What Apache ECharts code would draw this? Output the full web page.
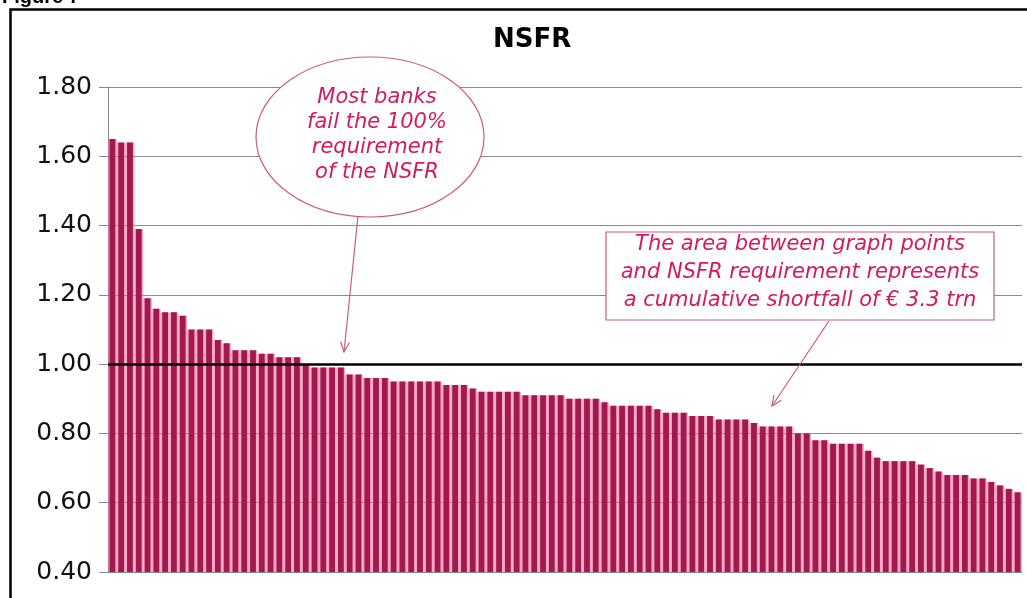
<!DOCTYPE html>
<html><head><meta charset="utf-8">
<script src="https://cdn.jsdelivr.net/npm/echarts@6/dist/echarts.min.js"></script>
<style>html,body{margin:0;padding:0;background:#fff}#c{width:1027px;height:598px}</style>
</head><body><div id="c"></div>
<script>
// NSFR ratio per bank, sorted descending
const nsfr = [
  1.65, 1.64, 1.64, 1.39, 1.19, 1.16, 1.15, 1.15, 1.14, 1.10,
  1.10, 1.10, 1.07, 1.06, 1.04, 1.04, 1.04, 1.03, 1.03, 1.02,
  1.02, 1.02, 1.00, 0.99, 0.99, 0.99, 0.99, 0.97, 0.97, 0.96,
  0.96, 0.96, 0.95, 0.95, 0.95, 0.95, 0.95, 0.95, 0.94, 0.94,
  0.94, 0.93, 0.92, 0.92, 0.92, 0.92, 0.92, 0.91, 0.91, 0.91,
  0.91, 0.91, 0.90, 0.90, 0.90, 0.90, 0.89, 0.88, 0.88, 0.88,
  0.88, 0.88, 0.87, 0.86, 0.86, 0.86, 0.85, 0.85, 0.85, 0.84,
  0.84, 0.84, 0.84, 0.83, 0.82, 0.82, 0.82, 0.82, 0.80, 0.80,
  0.78, 0.78, 0.77, 0.77, 0.77, 0.77, 0.75, 0.73, 0.72, 0.72,
  0.72, 0.72, 0.71, 0.70, 0.69, 0.68, 0.68, 0.68, 0.67, 0.67,
  0.66, 0.65, 0.64, 0.63
];
const banks = nsfr.map((_, i) => 'Bank ' + (i + 1));
const requirement = 1.0;
const yMin = 0.4, yMax = 1.8, yStep = 0.2;
const chartTitle = 'NSFR';
const figureLabel = 'Figure 7';
const ellipseNote = ['Most banks', 'fail the 100%', 'requirement', 'of the NSFR'];
const boxNote = ['The area between graph points', 'and NSFR requirement represents', 'a cumulative shortfall of \u20ac 3.3 trn'];

const noteColor = '#d41a60';
const edgeColor = '#cf5a84';

function arrow(x1, y1, x2, y2) {
  const a = Math.atan2(y2 - y1, x2 - x1), L = 11, s = 0.42;
  return [
    { type: 'line', z: 50, shape: { x1, y1, x2, y2 }, style: { stroke: edgeColor, lineWidth: 1.2 } },
    { type: 'polyline', z: 50, shape: { points: [
      [x2 - L * Math.cos(a - s), y2 - L * Math.sin(a - s)], [x2, y2],
      [x2 - L * Math.cos(a + s), y2 - L * Math.sin(a + s)]] },
      style: { stroke: edgeColor, fill: null, lineWidth: 1.2 } }
  ];
}

const graphics = [
  { type: 'rect', z: 60, shape: { x: 10.5, y: 9.5, width: 1100, height: 700 }, style: { fill: null, stroke: '#000', lineWidth: 2.5 } },
  { type: 'text', z: 60, x: 2, y: -13, style: { text: figureLabel, fontSize: 20, fontWeight: 'bold', fontFamily: 'Liberation Sans', fill: '#000' } },
  { type: 'ellipse', z: 40, shape: { cx: 370, cy: 137, rx: 114, ry: 80 }, style: { fill: '#fff', stroke: edgeColor, lineWidth: 1.2 } },
  { type: 'rect', z: 40, shape: { x: 606, y: 232, width: 388, height: 88 }, style: { fill: '#fff', stroke: edgeColor, lineWidth: 1.2 } }
];
ellipseNote.forEach((t, i) => graphics.push({ type: 'text', z: 45, x: 377, y: 98 + i * 25,
  style: { text: t, fontSize: 21, fontStyle: 'italic', fontFamily: 'DejaVu Sans', fill: noteColor, align: 'center', verticalAlign: 'middle' } }));
boxNote.forEach((t, i) => graphics.push({ type: 'text', z: 45, x: 800, y: 245 + i * 28,
  style: { text: t, fontSize: 21, fontStyle: 'italic', fontFamily: 'DejaVu Sans', fill: noteColor, align: 'center', verticalAlign: 'middle' } }));
graphics.push(...arrow(358, 216, 344, 352));
graphics.push(...arrow(829, 321, 772, 406));

const chart = echarts.init(document.getElementById('c'));
chart.setOption({
  animation: false,
  backgroundColor: '#fff',
  title: { text: chartTitle, left: 488, top: 22,
    textStyle: { fontFamily: 'DejaVu Sans', fontWeight: 'bold', fontSize: 26, color: '#000' } },
  grid: { left: 108, right: 5, top: 87, bottom: 26 },
  xAxis: [
    { type: 'category', data: banks, axisLine: { lineStyle: { color: '#888' } }, axisTick: { show: false }, axisLabel: { show: false } },
    { type: 'category', data: banks, show: false }
  ],
  yAxis: {
    type: 'value', min: yMin, max: yMax, interval: yStep,
    axisLine: { show: true, lineStyle: { color: '#888' } },
    axisTick: { show: true, length: 9, lineStyle: { color: '#888' } },
    splitLine: { lineStyle: { color: '#8c8c8c' } },
    axisLabel: { formatter: v => v.toFixed(2), fontSize: 25, color: '#111', margin: 16, fontFamily: 'DejaVu Sans' }
  },
  series: [
    { type: 'bar', xAxisIndex: 1, data: nsfr, barCategoryGap: '0%', silent: true, z: 1,
      itemStyle: { color: 'rgba(236,110,160,0.6)' } },
    { type: 'bar', xAxisIndex: 0, data: nsfr, barWidth: '66%', z: 2,
      itemStyle: { color: '#a3184e' },
      markLine: { silent: true, symbol: 'none', label: { show: false },
        lineStyle: { color: '#000', width: 2.5, type: 'solid' }, data: [{ yAxis: requirement }] } }
  ],
  graphic: graphics
});
</script></body></html>
